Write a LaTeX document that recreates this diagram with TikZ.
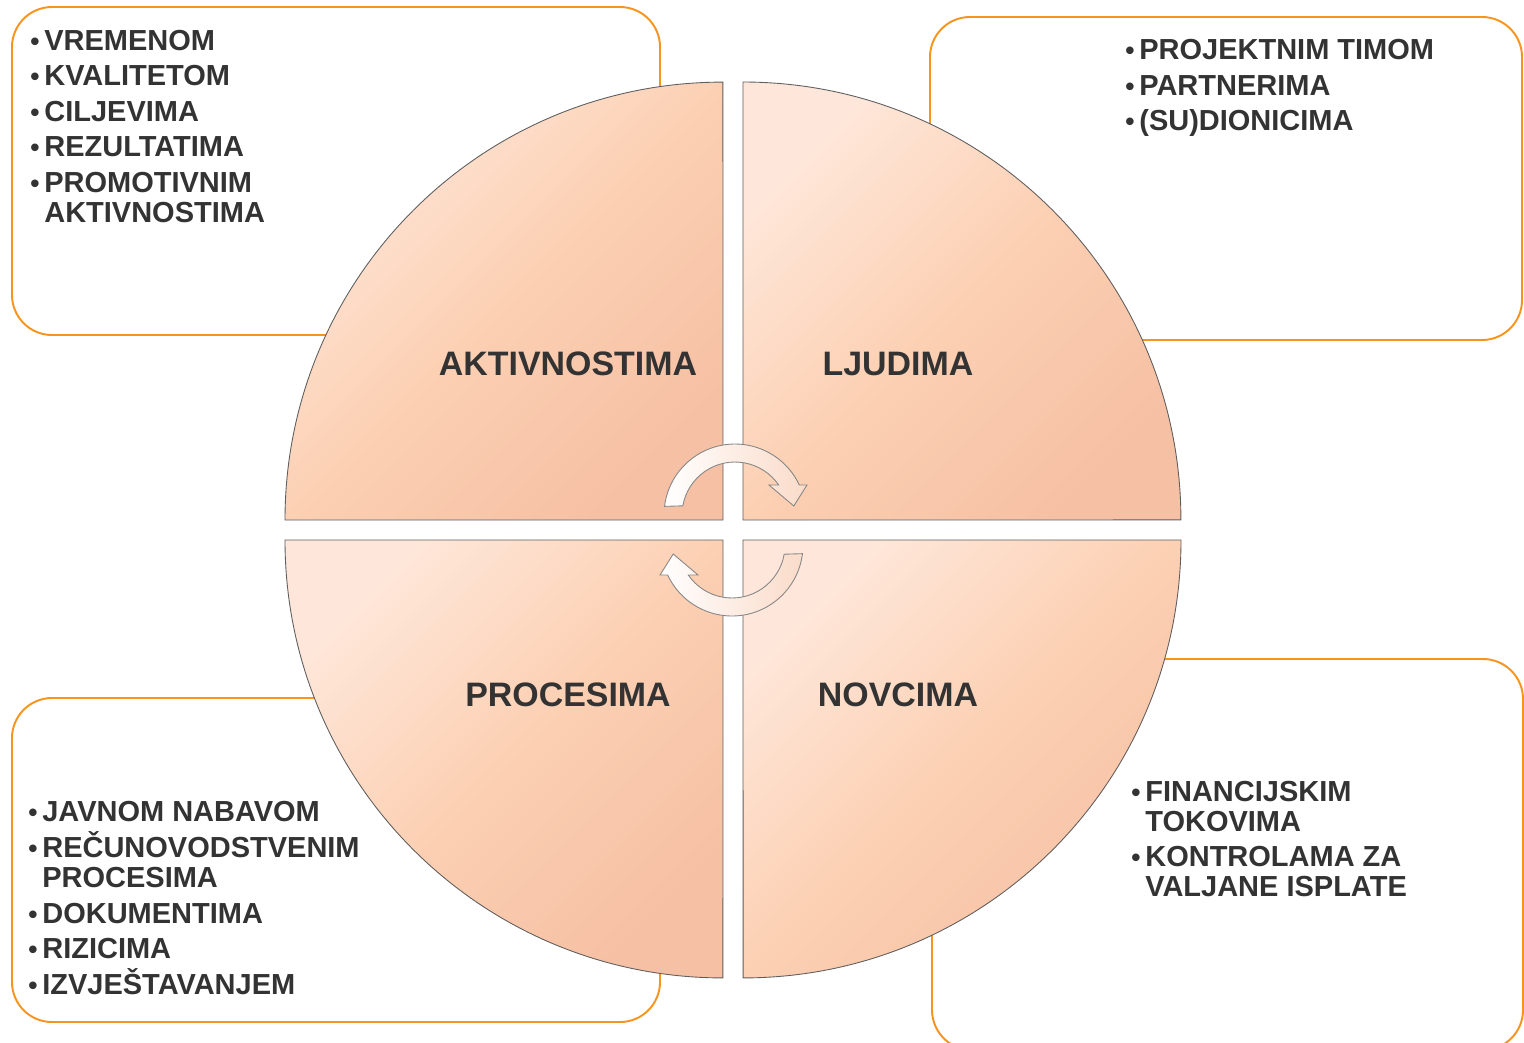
\documentclass[tikz,border=0pt]{standalone}
\usepackage{fontspec}
\setmainfont{Liberation Sans}
\definecolor{pkOrange}{HTML}{F7941D}
\definecolor{pkInk}   {HTML}{333333}
\definecolor{pkRim}   {HTML}{5E5E5E}
\definecolor{pkLight} {HTML}{FEE7DA}
\definecolor{pkMid}   {HTML}{FCD0B3}
\definecolor{pkDark}  {HTML}{F6C0A4}
\definecolor{pkTint}  {HTML}{FADBC9}
\newcommand{\blt}{\makebox[0.28cm][l]{\fontsize{15}{15}\selectfont•}}
\newcommand{\nob}{\hspace*{0.28cm}}

\begin{document}
\begin{tikzpicture}[x=0.02cm,y=-0.02cm,
      infobox/.style={draw=pkOrange,line width=1.1pt,rounded corners=0.8cm},
      quad/.style={draw=pkRim,line width=0.5pt,top color=pkLight,bottom color=pkDark,
                   middle color=pkMid,shading angle=45},
      turn/.style={draw=pkRim!75,line width=0.5pt,left color=white,right color=pkTint},
      item/.style={anchor=base west,inner sep=0pt,text=pkInk,
                   font=\fontsize{16.5}{18}\selectfont\bfseries},
      lbl/.style={anchor=base,inner sep=0pt,text=pkInk,
                  font=\fontsize{19.3}{22}\selectfont\bfseries}]

    \useasboundingbox (0,0) rectangle (1524,1042);
    \clip (0,0) rectangle (1524,1042);

    \draw[infobox] (12,7) rectangle (660,335);
    \draw[infobox] (930,17) rectangle (1522,340);
    \draw[infobox] (12,698) rectangle (660,1022);
    \draw[infobox] (932,659) rectangle (1523,1050);

    \draw[quad] (723,520) -- (285,520) arc[start angle=180,end angle=90,radius=8.76cm] -- cycle;
    \draw[quad] (743,520) -- (743,82) arc[start angle=90,end angle=0,radius=8.76cm] -- cycle;
    \draw[quad] (723,540) -- (285,540) arc[start angle=180,end angle=270,radius=8.76cm] -- cycle;
    \draw[quad] (743,540) -- (1181,540) arc[start angle=0,end angle=-90,radius=8.76cm] -- cycle;

    \foreach \cx/\cy/\rot in {735/515/0,732/545/180}
      \draw[turn,shift={(\cx,\cy)},rotate=\rot]
        (173:1.42cm) arc[start angle=173,end angle=25,radius=1.42cm]
        -- (1.44cm,0.6cm) -- (8.7:1.19cm) -- (0.68cm,0.6cm)
        -- (34.5:1.06cm) arc[start angle=34.5,end angle=170,radius=1.06cm] -- cycle;

    \node[lbl] (aktiv) at (568,375) {AKTIVNOSTIMA};
    \node[lbl] (ljudi) at (898,375) {LJUDIMA};
    \node[lbl] (proc)  at (568,706) {PROCESIMA};
    \node[lbl] (novac) at (898,706) {NOVCIMA};

    \foreach \yy/\txt in {50/\blt VREMENOM,85/\blt KVALITETOM,121/\blt CILJEVIMA,156/\blt REZULTATIMA,
                          192/\blt PROMOTIVNIM,222/\nob AKTIVNOSTIMA}
      \node[item] (akt\yy) at (30,\yy) {\txt};

    \foreach \yy/\txt in {59/\blt PROJEKTNIM TIMOM,95/\blt PARTNERIMA,130/\blt (SU)DIONICIMA}
      \node[item] (lju\yy) at (1125,\yy) {\txt};

    \foreach \yy/\txt in {821/\blt JAVNOM NABAVOM,857/\blt REČUNOVODSTVENIM,887/\nob PROCESIMA,
                          923/\blt DOKUMENTIMA,958/\blt RIZICIMA,994/\blt IZVJEŠTAVANJEM}
      \node[item] (pro\yy) at (28,\yy) {\txt};

    \foreach \yy/\txt in {801/\blt FINANCIJSKIM,831/\nob TOKOVIMA,
                          866/\blt KONTROLAMA ZA,896/\nob VALJANE ISPLATE}
      \node[item] (nov\yy) at (1131,\yy) {\txt};
  \end{tikzpicture}
\end{document}
